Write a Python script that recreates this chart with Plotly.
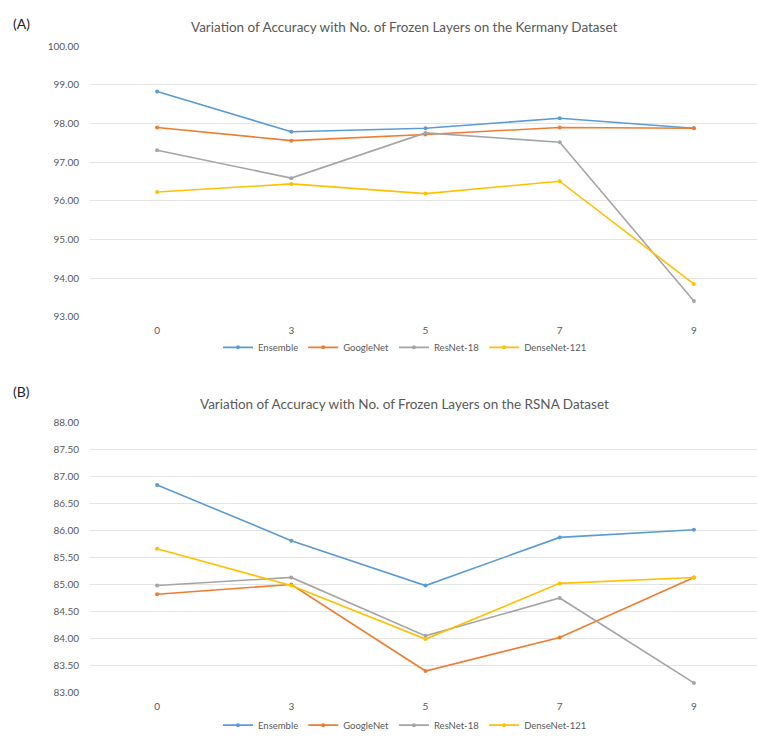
import plotly.graph_objects as go

# Number of frozen layers (shared category axis)
frozen_layers = ["0", "3", "5", "7", "9"]
model_names = ["Ensemble", "GoogleNet", "ResNet-18", "DenseNet-121"]

# Accuracy (%) on the Kermany dataset
kermany_ensemble = [98.83, 97.79, 97.88, 98.14, 97.88]
kermany_googlenet = [97.90, 97.56, 97.72, 97.90, 97.88]
kermany_resnet18 = [97.31, 96.59, 97.76, 97.52, 93.41]
kermany_densenet121 = [96.23, 96.44, 96.19, 96.51, 93.85]

# Accuracy (%) on the RSNA dataset
rsna_ensemble = [86.84, 85.81, 84.98, 85.87, 86.01]
rsna_googlenet = [84.82, 85.00, 83.40, 84.02, 85.13]
rsna_resnet18 = [84.98, 85.13, 84.05, 84.75, 83.18]
rsna_densenet121 = [85.66, 84.98, 83.99, 85.02, 85.13]

colors = ["#5B9BD5", "#ED7D31", "#A5A5A5", "#FFC000"]
FONT = "Lato"
GREY = "#595959"

W, H = 757, 740

fig = go.Figure()

panels = [
    ([kermany_ensemble, kermany_googlenet, kermany_resnet18, kermany_densenet121], "x", "y", "legend"),
    ([rsna_ensemble, rsna_googlenet, rsna_resnet18, rsna_densenet121], "x2", "y2", "legend2"),
]
for series, xa, ya, lg in panels:
    for name, vals, col in zip(model_names, series, colors):
        fig.add_trace(go.Scatter(
            x=frozen_layers, y=vals, name=name, mode="lines+markers",
            line=dict(color=col, width=1.6),
            marker=dict(color=col, size=4),
            xaxis=xa, yaxis=ya, legend=lg,
        ))

def fy(px):
    return 1 - px / H

x_dom = [90 / W, 1.0]
axis_common = dict(
    showgrid=True, gridcolor="#E4E4E4", gridwidth=1, zeroline=False,
    showline=False, tickfont=dict(family=FONT, size=10, color=GREY),
    ticklabelstandoff=10,
)
xaxis_common = dict(
    type="category", range=[-0.5, 4.47], showgrid=False, zeroline=False,
    showline=False, tickfont=dict(family=FONT, size=10, color=GREY),
    ticklabelstandoff=6,
)

legend_common = dict(
    orientation="h", xanchor="center", yanchor="middle",
    font=dict(family=FONT, size=9.5, color=GREY),
    itemwidth=30, bgcolor="rgba(0,0,0,0)", tracegroupgap=0,
)

fig.update_layout(
    width=W, height=H,
    margin=dict(l=0, r=0, t=0, b=0),
    paper_bgcolor="white", plot_bgcolor="white",
    xaxis=dict(domain=x_dom, anchor="y", **xaxis_common),
    yaxis=dict(domain=[fy(316), fy(41)], range=[93, 100], dtick=1,
               tickformat=".2f", anchor="x", **axis_common),
    xaxis2=dict(domain=x_dom, anchor="y2", **xaxis_common),
    yaxis2=dict(domain=[fy(698), fy(423)], range=[83, 88], dtick=0.5,
                tickformat=".2f", anchor="x2", **axis_common),
    legend=dict(x=405 / W, y=fy(347), **legend_common),
    legend2=dict(x=405 / W, y=fy(731), **legend_common),
    annotations=[
        dict(text="(A)", x=11 / W, y=fy(18), xref="paper", yref="paper",
             xanchor="left", yanchor="middle", showarrow=False,
             font=dict(family=FONT, size=14, color="#222222")),
        dict(text="Variation of Accuracy with No. of Frozen Layers on the Kermany Dataset",
             x=404 / W, y=fy(21), xref="paper", yref="paper",
             xanchor="center", yanchor="middle", showarrow=False,
             font=dict(family=FONT, size=13.5, color=GREY)),
        dict(text="(B)", x=11 / W, y=fy(392), xref="paper", yref="paper",
             xanchor="left", yanchor="middle", showarrow=False,
             font=dict(family=FONT, size=14, color="#222222")),
        dict(text="Variation of Accuracy with No. of Frozen Layers on the RSNA Dataset",
             x=404 / W, y=fy(405), xref="paper", yref="paper",
             xanchor="center", yanchor="middle", showarrow=False,
             font=dict(family=FONT, size=13.5, color=GREY)),
    ],
)

fig.write_html("out.html")
